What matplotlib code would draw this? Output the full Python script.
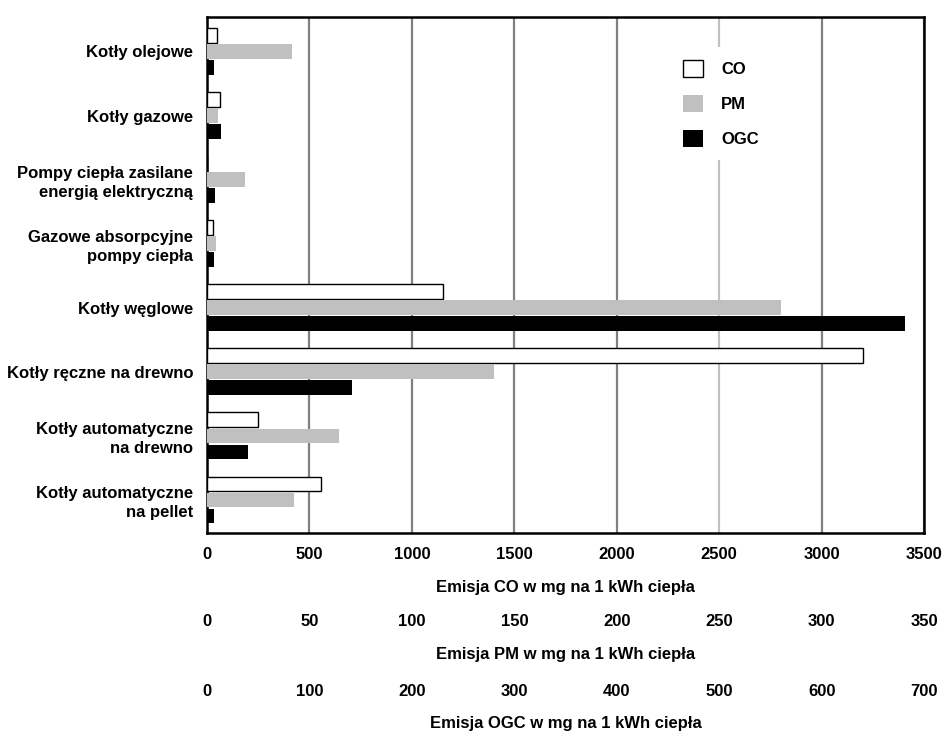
import matplotlib
matplotlib.use("Agg")
import matplotlib.pyplot as plt
import numpy as np

categories = [
    "Kotły olejowe",
    "Kotły gazowe",
    "Pompy ciepła zasilane\nenergią elektryczną",
    "Gazowe absorpcyjne\npompy ciepła",
    "Kotły węglowe",
    "Kotły ręczne na drewno",
    "Kotły automatyczne\nna drewno",
    "Kotły automatyczne\nna pellet",
]
co_values = [50, 65, 0, 30, 1150, 3200, 250, 555]
pm_values = [41.5, 5.4, 18.6, 4.4, 280, 140, 64.5, 42.5]
ogc_values = [7, 13.6, 8, 7, 681, 142, 40, 6.5]

co_ticks = [0, 500, 1000, 1500, 2000, 2500, 3000, 3500]
pm_ticks = [0, 50, 100, 150, 200, 250, 300, 350]
ogc_ticks = [0, 100, 200, 300, 400, 500, 600, 700]

PM_FACTOR = 10.0
OGC_FACTOR = 5.0

plt.rcParams['font.family'] = ['Liberation Sans', 'DejaVu Sans']
plt.rcParams['font.weight'] = 'bold'

fig = plt.figure(figsize=(9.43, 7.34), dpi=100)
ax = fig.add_axes([0.2195, 0.2735, 0.7605, 0.7035])

y = np.arange(len(categories))
h = 0.23
step = 0.25

ax.barh(y - step, co_values, height=h, color='white', edgecolor='black', linewidth=1.0, label='CO', zorder=3)
ax.barh(y, np.array(pm_values) * PM_FACTOR, height=h, color='#c0c0c0', edgecolor='none', label='PM', zorder=3)
ax.barh(y + step, np.array(ogc_values) * OGC_FACTOR, height=h, color='black', edgecolor='none', label='OGC', zorder=3)

ax.set_xlim(0, 3500)
ax.set_ylim(len(categories) - 1 + 0.52, -0.54)
ax.set_yticks(y)
ax.set_yticklabels(categories, fontsize=12, fontweight='bold', linespacing=1.3)
ax.tick_params(axis='y', length=0, pad=10)

ax.set_xticks(co_ticks)
ax.set_xticklabels([str(t) for t in co_ticks], fontsize=12, fontweight='bold')
ax.tick_params(axis='x', length=0, pad=10)
ax.set_xlabel("Emisja CO w mg na 1 kWh ciepła", fontsize=12, fontweight='bold', labelpad=13)

ax.xaxis.grid(True, color='#808080', linewidth=1.6, zorder=0)
ax.set_axisbelow(True)
gl = ax.get_xgridlines()
if len(gl) > 5:
    gl[5].set_color('#c0c0c0')

for s in ax.spines.values():
    s.set_color('black')
    s.set_linewidth(1.8)

axis_h_px = 0.7035 * 734

sec_pm = ax.secondary_xaxis(-(67 / axis_h_px), functions=(lambda v: v / PM_FACTOR, lambda v: v * PM_FACTOR))
sec_pm.set_xticks(pm_ticks)
sec_pm.set_xticklabels([str(t) for t in pm_ticks], fontsize=12, fontweight='bold')
sec_pm.tick_params(axis='x', length=0, pad=10)
sec_pm.spines['bottom'].set_visible(False)
sec_pm.set_xlabel("Emisja PM w mg na 1 kWh ciepła", fontsize=12, fontweight='bold', labelpad=13)

sec_ogc = ax.secondary_xaxis(-(137 / axis_h_px), functions=(lambda v: v / OGC_FACTOR, lambda v: v * OGC_FACTOR))
sec_ogc.set_xticks(ogc_ticks)
sec_ogc.set_xticklabels([str(t) for t in ogc_ticks], fontsize=12, fontweight='bold')
sec_ogc.tick_params(axis='x', length=0, pad=10)
sec_ogc.spines['bottom'].set_visible(False)
sec_ogc.set_xlabel("Emisja OGC w mg na 1 kWh ciepła", fontsize=12, fontweight='bold', labelpad=12)

leg = ax.legend(loc='upper left', bbox_to_anchor=((670 - 207) / 717, 1 - (47 - 17) / 516),
                frameon=True, fancybox=False, facecolor='white', edgecolor='none', framealpha=1,
                prop={'size': 12, 'weight': 'bold'}, handlelength=1.2, handleheight=1.2,
                handletextpad=1.05, labelspacing=1.05, borderpad=0.8, borderaxespad=0)
leg.set_zorder(5)

fig.savefig("out.png", dpi=100)
